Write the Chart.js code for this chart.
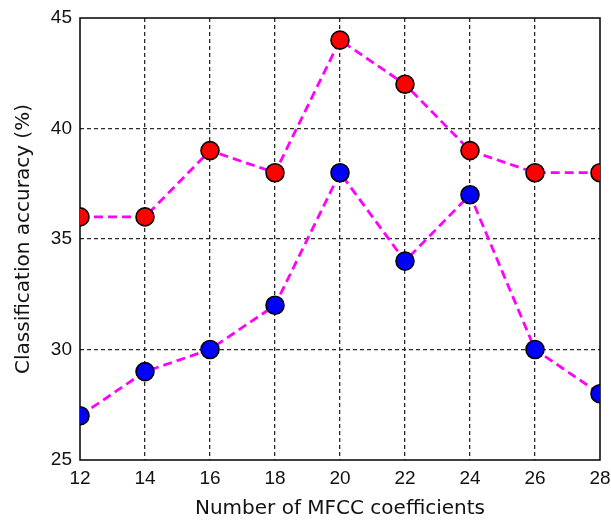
<!DOCTYPE html>
<html>
<head>
<meta charset="utf-8">
<script src="https://cdn.jsdelivr.net/npm/chart.js@4"></script>
<style>
  html, body { margin: 0; padding: 0; background: #fff; }
  #wrap { width: 611px; height: 521px; }
</style>
</head>
<body>
<div id="wrap"><canvas id="c" width="611" height="521"></canvas></div>
<script>
const coefficients = [12, 14, 16, 18, 20, 22, 24, 26, 28];
const redAccuracy = [36, 36, 39, 38, 44, 42, 39, 38, 38];
const blueAccuracy = [27, 29, 30, 32, 38, 34, 37, 30, 28];
const yTicks = [25, 30, 35, 40, 45];

const TICK_FONT = "'Liberation Sans', Arial, sans-serif";
const TITLE_FONT = "'DejaVu Sans', Verdana, sans-serif";

function series(values, color) {
  return {
    data: coefficients.map((x, i) => ({ x, y: values[i] })),
    borderColor: "#ff00ff",
    borderWidth: 2.8,
    borderDash: [9, 5],
    pointRadius: 9,
    pointHoverRadius: 9,
    pointBackgroundColor: color,
    pointBorderColor: "#000",
    pointBorderWidth: 1.6,
    tension: 0,
    fill: false,
  };
}

// black frame round the plot area, like MATLAB's "box on"
const frame = {
  id: "frame",
  beforeDatasetsDraw(chart) {
    const { ctx, chartArea: a } = chart;
    ctx.save();
    ctx.strokeStyle = "#000";
    ctx.lineWidth = 1.5;
    ctx.strokeRect(a.left, a.top, a.right - a.left, a.bottom - a.top);
    ctx.restore();
  },
};

// hide grid lines that sit on the frame
const gridColor = (edges) => (c) =>
  c.tick && edges.includes(c.tick.value) ? "rgba(0,0,0,0)" : "#2a2a2a";

new Chart(document.getElementById("c"), {
  type: "line",
  data: { datasets: [series(redAccuracy, "#ff0000"), series(blueAccuracy, "#0000ff")] },
  plugins: [frame],
  options: {
    responsive: false,
    animation: false,
    layout: { padding: { top: 18, right: 11, left: 12, bottom: 0 } },
    plugins: { legend: { display: false }, tooltip: { enabled: false } },
    scales: {
      x: {
        type: "linear",
        min: 12,
        max: 28,
        afterBuildTicks(scale) { scale.ticks = coefficients.map((v) => ({ value: v })); },
        afterFit(scale) {
          scale.height = 61;
          scale.paddingLeft = 0;
          scale.paddingRight = 0;
        },
        border: { display: false, dash: [4, 3] },
        grid: { color: gridColor([12, 28]), lineWidth: 1.3, drawTicks: false },
        ticks: { color: "#111", font: { family: TICK_FONT, size: 19 }, padding: 7, maxRotation: 0 },
        title: {
          display: true,
          text: "Number of MFCC coefficients",
          color: "#111",
          font: { family: TITLE_FONT, size: 20 },
          padding: { top: 0, bottom: 0 },
        },
      },
      y: {
        min: 25,
        max: 45,
        afterBuildTicks(scale) { scale.ticks = yTicks.map((v) => ({ value: v })); },
        afterFit(scale) {
          scale.width = 68;
          scale.paddingTop = 0;
          scale.paddingBottom = 0;
        },
        border: { display: false, dash: [4, 3] },
        grid: { color: gridColor([25, 45]), lineWidth: 1.3, drawTicks: false },
        ticks: { color: "#111", font: { family: TICK_FONT, size: 19 }, padding: 8 },
        title: {
          display: true,
          text: "Classification accuracy (%)",
          color: "#111",
          font: { family: TITLE_FONT, size: 20 },
          padding: { top: 0, bottom: 0 },
        },
      },
    },
  },
});
</script>
</body>
</html>
